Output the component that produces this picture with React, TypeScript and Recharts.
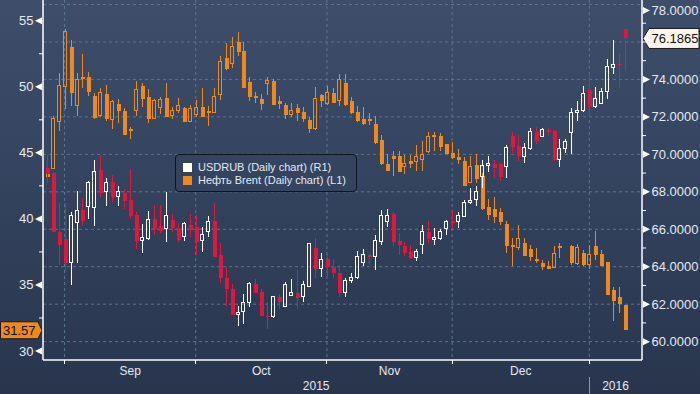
import React from 'react';
import { ComposedChart, Bar, XAxis, YAxis, CartesianGrid, ReferenceLine } from 'recharts';

// ---- Data (trading-day index 0 = 27 Aug 2015) ----
const usdOpen = [69.27,69.0,65.86,65.49,64.2,66.34,67.03,67.19,67.14,69.17,67.99,68.52,67.73,67.94,67.57,66.76,65.38,65.49,66.55,66.18,66.02,66.5,66.07,65.59,66.23,66.12,65.38,65.86,66.44,64.63,63.4,62.81,61.43,61.59,62.07,63.08,62.65,61.37,61.32,62.39,61.9,62.49,62.6,62.39,62.97,65.0,63.93,64.41,63.99,63.67,62.6,63.24,63.4,64.2,64.63,64.52,65.33,66.39,66.82,65.38,65.11,64.79,64.47,65.17,65.86,65.43,65.49,66.04,66.44,66.39,66.66,67.41,67.57,68.84,69.43,69.49,69.49,69.33,70.98,70.45,69.86,70.29,71.2,70.93,71.3,71.25,69.75,70.29,71.14,72.21,72.32,73.44,72.53,72.74,73.33,74.62,74.83,76.7];
const usdHigh = [69.97,69.06,67.41,67.41,66.93,68.04,67.67,68.58,69.7,69.97,68.74,68.9,68.31,68.15,69.22,66.93,66.29,66.98,67.3,67.3,67.99,66.82,66.34,66.39,66.82,66.76,66.12,66.71,67.41,65.27,63.99,63.08,61.9,62.55,63.19,63.35,62.81,62.12,62.44,62.55,63.19,63.35,63.83,63.24,65.27,65.54,64.74,64.68,64.41,64.09,63.4,63.67,64.84,64.95,64.74,65.7,67.03,67.09,66.93,65.81,65.33,65.17,64.95,66.23,66.44,66.07,66.02,66.5,66.93,66.93,67.57,68.2,68.31,69.7,69.91,69.7,69.54,70.5,71.2,71.04,70.61,71.41,71.46,71.41,71.41,71.3,70.82,70.82,72.48,72.85,73.65,74.35,73.6,73.55,75.09,76.11,75.41,76.7];
const usdLow = [68.47,65.86,64.09,63.77,63.03,64.2,66.18,66.55,66.18,67.73,67.25,67.46,67.25,67.09,66.55,64.95,64.74,65.43,65.7,65.8,65.33,65.86,65.33,65.38,65.59,64.63,64.79,65.59,64.52,63.13,61.9,61.43,60.84,60.95,61.85,62.6,61.37,60.68,61.27,61.75,61.9,62.44,61.75,62.12,62.97,63.4,63.45,63.51,63.4,62.39,62.39,63.13,63.35,64.04,64.09,63.83,65.17,66.12,65.11,64.63,64.57,64.41,64.31,64.68,65.27,65.17,65.43,65.7,66.04,66.07,66.66,67.35,67.25,68.2,69.06,68.74,68.58,68.74,70.07,69.65,69.54,70.23,70.55,70.93,70.98,69.65,69.33,70.07,70.02,71.78,72.26,71.99,72.48,72.69,72.96,74.3,73.55,74.46];
const usdClose = [68.95,65.86,65.17,64.2,66.71,66.98,66.44,68.52,69.06,67.94,68.52,67.73,67.99,67.51,66.71,65.38,65.54,66.5,66.02,65.91,66.76,66.07,65.43,66.29,65.96,65.33,65.7,66.39,64.52,63.4,62.81,61.43,61.53,62.07,63.08,62.6,61.37,61.32,62.39,62.12,63.03,62.6,62.33,63.03,65.22,63.88,64.41,63.99,63.67,62.6,63.24,63.4,64.52,64.63,64.52,65.38,66.71,66.76,65.33,65.17,64.74,64.47,64.79,65.86,65.49,65.54,65.86,66.44,66.39,66.71,67.41,67.51,68.04,69.43,69.49,69.27,68.79,70.39,70.39,69.91,70.34,71.2,70.72,71.3,71.2,69.7,70.29,70.66,72.21,72.32,73.23,72.53,72.96,73.33,74.67,74.78,74.78,76.19];

const brentOpen = [43.5,43.85,47.4,50.06,53.0,48.62,50.74,50.74,49.3,47.79,49.45,47.56,48.7,48.17,46.8,48.17,50.06,49.22,47.63,48.47,49.15,47.86,48.17,48.4,47.41,47.94,48.47,48.17,48.09,49.45,52.18,51.8,53.39,52.71,50.36,49.3,49.07,50.28,50.44,48.92,48.62,47.94,48.4,48.09,47.48,46.88,49.38,48.7,49.53,49.0,50.28,48.92,48.09,47.56,47.56,47.18,45.97,44.15,44.76,44.76,44.0,44.38,44.38,44.53,45.14,46.2,46.27,45.67,44.98,44.68,44.38,42.79,44.08,43.24,40.9,40.75,40.52,39.61,38.02,37.87,38.17,37.72,36.96,36.66,36.43,36.35,37.95,null,37.95,36.66,37.41,36.58,37.95,37.34,36.73,34.61,34.08,33.48];
const brentHigh = [43.8,47.79,51.04,54.37,53.54,51.04,52.48,51.12,49.53,49.9,50.13,49.0,49.07,48.4,46.95,50.44,50.28,49.83,49.07,49.22,50.28,48.47,49.15,48.47,48.62,49.0,49.9,48.54,49.9,52.33,53.31,53.77,54.15,53.39,50.74,49.6,49.45,50.74,50.59,49.3,48.77,48.77,48.7,48.47,47.71,49.98,49.45,50.06,49.9,50.97,50.97,49.22,48.54,48.47,48.02,47.79,46.35,44.9,45.14,45.14,44.83,44.83,45.59,45.89,46.58,46.58,46.5,45.67,45.82,45.29,44.68,44.76,44.9,43.47,41.5,41.65,40.82,39.84,38.55,39.54,38.55,38.02,37.8,36.88,36.81,37.95,38.17,null,38.02,38.1,37.64,38.02,39.08,37.64,36.73,34.84,34.84,33.48];
const brentLow = [42.7,43.8,46.65,48.32,48.54,47.79,49.9,49.3,47.56,47.7,47.4,46.8,47.26,46.35,46.05,47.79,48.47,47.26,47.56,47.94,47.71,47.56,48.02,47.33,47.33,47.71,47.71,47.03,48.02,49.0,51.27,51.42,52.33,49.9,48.92,48.77,48.24,49.38,48.62,48.32,47.56,47.71,47.41,47.33,46.5,46.73,48.47,48.62,48.77,48.54,48.54,47.94,47.33,47.11,47.11,45.67,44.08,43.62,43.24,43.55,43.4,43.85,43.62,43.62,44.98,45.14,45.14,44.9,44.53,44.15,42.49,42.71,42.71,40.67,39.91,39.69,39.54,37.42,36.43,37.64,37.19,36.81,36.66,36.13,36.2,36.35,37.03,null,36.5,36.5,36.43,36.2,36.88,36.43,34.24,32.27,32.87,31.57];
const brentClose = [43.2,47.63,50.13,54.22,49.53,50.59,50.59,49.6,47.63,49.6,47.56,48.92,48.17,46.35,46.65,49.83,49.07,47.56,49.0,49.07,47.71,48.24,48.62,47.33,48.32,48.47,47.71,48.02,49.3,51.95,51.34,53.08,52.63,49.9,49.22,49.15,48.7,50.51,48.62,48.7,47.86,48.17,48.02,47.56,46.8,49.15,48.92,49.6,48.77,50.59,48.62,48.02,47.41,47.18,47.41,45.74,44.15,43.62,44.53,43.55,44.23,44.15,44.76,44.9,46.2,46.35,45.44,44.9,44.6,44.45,42.49,43.93,43.02,40.75,40.29,40.14,39.76,37.95,37.87,38.55,37.19,37.11,36.81,36.35,36.2,37.41,37.8,null,36.66,37.87,36.5,37.34,37.26,36.43,34.24,33.78,33.55,31.57];

const monthStartIdx = [3, 25, 47, 68, 91];
const monthLabelIdx = [14, 36, 57.5, 79.5];
const monthLabels = ['Sep', 'Oct', 'Nov', 'Dec'];
const yearLabelIdx = [45.2, 95.4];
const yearLabels = ['2015', '2016'];
const yearStartIdx = 91;

const leftTicks = [30, 32.5, 35, 37.5, 40, 42.5, 45, 47.5, 50, 52.5, 55];
const leftLabelTicks = [30, 35, 40, 45, 50, 55];
const rightTicks = [60, 61, 62, 63, 64, 65, 66, 67, 68, 69, 70, 71, 72, 73, 74, 75, 76, 77, 78];
const rightLabelTicks = [60, 62, 64, 66, 68, 70, 72, 74, 76, 78];
const rightGridValues = [60, 62, 64, 66, 68, 70, 72, 74, 76, 78];

const lastUsd = 76.1865;
const lastUsdLabel = '76.1865';
const lastBrent = 31.57;
const lastBrentLabel = '31.57';

const legendItems = [
  { name: 'USDRUB (Daily chart) (R1)', color: '#ffffff' },
  { name: 'Нефть Brent (Daily chart) (L1)', color: '#ee8a1d' },
];

// ---- Layout / style ----
const W = 700;
const H = 394;
const PLOT_LEFT = 43;
const PLOT_RIGHT = 642;
const AXIS_Y = 360;
const FONT = '"Liberation Sans", Arial, sans-serif';
const TXT = '#e4eaf2';
const ORANGE = '#ee8a1d';
const RED = '#e0163f';
const WHITE = '#ffffff';
const GRID = '#5b7591';

const data = usdOpen.map((_, i) => ({
  i,
  usd: [usdLow[i], usdHigh[i]],
  uO: usdOpen[i], uH: usdHigh[i], uL: usdLow[i], uC: usdClose[i],
  brent: brentOpen[i] == null ? null : [brentLow[i], brentHigh[i]],
  bO: brentOpen[i], bH: brentHigh[i], bL: brentLow[i], bC: brentClose[i],
}));

function makeCandle(kind: 'usd' | 'brent') {
  return (props: any) => {
    const { x, y, width, height, payload } = props;
    if (!payload) return <g />;
    const o = kind === 'usd' ? payload.uO : payload.bO;
    const c = kind === 'usd' ? payload.uC : payload.bC;
    const hi = kind === 'usd' ? payload.uH : payload.bH;
    const lo = kind === 'usd' ? payload.uL : payload.bL;
    if (o == null || x == null || y == null) return <g />;
    const top = Math.min(y, y + height);
    const bot = Math.max(y, y + height);
    const span = hi - lo;
    const py = (v: number) => (span === 0 ? top : top + ((hi - v) / span) * (bot - top));
    const cx = Math.round(x + width / 2) + 0.5;
    const up = c >= o;
    const color = kind === 'usd' ? (up ? WHITE : RED) : ORANGE;
    const bt = py(Math.max(o, c));
    const bb = Math.max(py(Math.min(o, c)), bt + 1.5);
    const bw = 4;
    if (up) {
      return (
        <g shapeRendering="crispEdges">
          <line x1={cx} x2={cx} y1={top} y2={bt} stroke={color} strokeWidth={1} />
          <line x1={cx} x2={cx} y1={bb} y2={bot} stroke={color} strokeWidth={1} />
          <rect x={cx - bw / 2} y={bt} width={bw - 1} height={Math.max(bb - bt, 1)} fill="none" stroke={color} strokeWidth={1} />
        </g>
      );
    }
    return (
      <g shapeRendering="crispEdges">
        <line x1={cx} x2={cx} y1={top} y2={bot} stroke={color} strokeWidth={1} />
        <rect x={cx - bw / 2} y={bt} width={bw} height={Math.max(bb - bt, 1.5)} fill={color} />
      </g>
    );
  };
}
const UsdCandle = makeCandle('usd');
const BrentCandle = makeCandle('brent');

const LeftTick = (props: any) => {
  const { y, payload } = props;
  const v = payload.value;
  if (!leftLabelTicks.includes(v)) {
    return <line x1={PLOT_LEFT - 4} x2={PLOT_LEFT} y1={y} y2={y} stroke="#ffffff" strokeWidth={1} />;
  }
  return (
    <g>
      <polygon points={`${PLOT_LEFT - 1},${y - 3.5} ${PLOT_LEFT - 1},${y + 3.5} ${PLOT_LEFT - 8},${y}`} fill="#ffffff" />
      <text x={PLOT_LEFT - 9.5} y={y} textAnchor="end" dominantBaseline="central" fill={TXT} fontSize={13} fontFamily={FONT}>{v}</text>
    </g>
  );
};

const RightTick = (props: any) => {
  const { y, payload } = props;
  const v = payload.value;
  if (!rightLabelTicks.includes(v)) {
    return <line x1={PLOT_RIGHT} x2={PLOT_RIGHT + 4} y1={y} y2={y} stroke="#ffffff" strokeWidth={1} />;
  }
  // the label hidden under the last-value tag is not shown (as in the reference)
  if (v === 76) {
    return <line x1={PLOT_RIGHT} x2={PLOT_RIGHT + 4} y1={y} y2={y} stroke="#ffffff" strokeWidth={1} />;
  }
  const ty = Math.max(y, 10.5);
  return (
    <g>
      <polygon points={`${PLOT_RIGHT + 1},${ty - 3.5} ${PLOT_RIGHT + 1},${ty + 3.5} ${PLOT_RIGHT + 8},${ty}`} fill="#ffffff" />
      <text x={PLOT_RIGHT + 9.5} y={ty} textAnchor="start" dominantBaseline="central" fill={TXT} fontSize={13} fontFamily={FONT}>{v.toFixed(4)}</text>
    </g>
  );
};

const XTick = (props: any) => {
  const { x, payload } = props;
  const v = payload.value;
  const mi = monthStartIdx.indexOf(v);
  if (mi >= 0) {
    return (
      <g shapeRendering="crispEdges">
        <line x1={x} x2={x} y1={AXIS_Y} y2={AXIS_Y + 4} stroke="#ffffff" />
        {v === yearStartIdx && <line x1={x} x2={x} y1={AXIS_Y + 17} y2={H} stroke="#8d99ab" />}
      </g>
    );
  }
  const li = monthLabelIdx.indexOf(v);
  if (li >= 0) {
    return <text x={x} y={AXIS_Y + 11} textAnchor="middle" dominantBaseline="central" fill={TXT} fontSize={12} fontFamily={FONT}>{monthLabels[li]}</text>;
  }
  const yi = yearLabelIdx.indexOf(v);
  if (yi >= 0) {
    return <text x={x} y={AXIS_Y + 26} textAnchor="middle" dominantBaseline="central" fill={TXT} fontSize={12} fontFamily={FONT}>{yearLabels[yi]}</text>;
  }
  return <g />;
};

const UsdTag = (props: any) => {
  const vb = props.viewBox || {};
  const y = vb.y;
  const xr = vb.x + vb.width;
  if (y == null) return null;
  return (
    <g>
      <polygon points={`${xr + 1},${y} ${xr + 7},${y - 10} ${W - 1},${y - 10} ${W - 1},${y + 10} ${xr + 7},${y + 10}`} fill="#fdf4ea" stroke="#1b1b1b" strokeWidth={1} />
      <text x={xr + 9.5} y={y} dominantBaseline="central" fill="#111111" fontSize={13} fontFamily={FONT}>{lastUsdLabel}</text>
    </g>
  );
};

const BrentTag = (props: any) => {
  const vb = props.viewBox || {};
  const y = vb.y;
  const xl = vb.x;
  if (y == null) return null;
  return (
    <g>
      <polygon points={`0.5,${y - 8.5} ${xl - 5},${y - 8.5} ${xl - 1},${y} ${xl - 5},${y + 8.5} 0.5,${y + 8.5}`} fill={ORANGE} stroke="#1b1b1b" strokeWidth={1} />
      <text x={3} y={y} dominantBaseline="central" fill="#111111" fontSize={13} fontFamily={FONT}>{lastBrentLabel}</text>
    </g>
  );
};

const xTicks = [...monthStartIdx, ...monthLabelIdx, ...yearLabelIdx];
const X_DOMAIN: [number, number] = [-0.62, 99.84];

export default function App() {
  return (
    <div style={{ position: 'absolute', left: 0, top: 0, width: W, height: H, background: 'linear-gradient(to bottom, #3e4d69 0%, #34435e 45%, #28354d 100%)', overflow: 'hidden' }}>
      <ComposedChart width={W} height={H} data={data} margin={{ top: 0, right: 0, bottom: 0, left: 0 }}>
        <CartesianGrid
          stroke={GRID}
          strokeDasharray="3 3"
          horizontalValues={rightGridValues}
          verticalValues={monthStartIdx}
        />
        <XAxis
          dataKey="i"
          type="number"
          domain={X_DOMAIN}
          allowDataOverflow
          ticks={xTicks}
          interval={0}
          height={H - AXIS_Y}
          tickLine={false}
          tickSize={0}
          tick={<XTick />}
          axisLine={{ stroke: '#ffffff', strokeWidth: 1.5 }}
        />
        <XAxis xAxisId="x2" dataKey="i" type="number" domain={X_DOMAIN} allowDataOverflow hide />
        <YAxis
          orientation="right"
          domain={[59.02, 78.24]}
          allowDataOverflow
          ticks={rightTicks}
          interval={0}
          width={W - PLOT_RIGHT}
          tickLine={false}
          tick={<RightTick />}
          axisLine={{ stroke: '#ffffff', strokeWidth: 1.5 }}
        />
        <YAxis
          yAxisId="left"
          orientation="left"
          domain={[29.32, 56.57]}
          allowDataOverflow
          ticks={leftTicks}
          interval={0}
          width={PLOT_LEFT}
          tickLine={false}
          tick={<LeftTick />}
          axisLine={{ stroke: '#ffffff', strokeWidth: 1.5 }}
        />
        <Bar xAxisId="x2" yAxisId="left" dataKey="brent" barSize={4} shape={BrentCandle} isAnimationActive={false} />
        <Bar dataKey="usd" barSize={4} shape={UsdCandle} isAnimationActive={false} />
        <ReferenceLine y={lastUsd} stroke="none" label={<UsdTag />} />
        <ReferenceLine yAxisId="left" y={lastBrent} stroke="none" label={<BrentTag />} />
      </ComposedChart>
      <div style={{ position: 'absolute', left: 175, top: 154, width: 182, height: 38, boxSizing: 'border-box', border: '1.5px solid #0e1421', borderRadius: 4, background: '#34435e', fontFamily: FONT, fontSize: 11, color: TXT }}>
        {legendItems.map((it, k) => (
          <div key={k} style={{ position: 'absolute', left: 7, top: 6 + k * 13, height: 12, display: 'flex', alignItems: 'center', whiteSpace: 'nowrap' }}>
            <span style={{ display: 'inline-block', width: 9, height: 9, background: it.color, marginRight: 6 }} />
            <span>{it.name}</span>
          </div>
        ))}
      </div>
    </div>
  );
}
